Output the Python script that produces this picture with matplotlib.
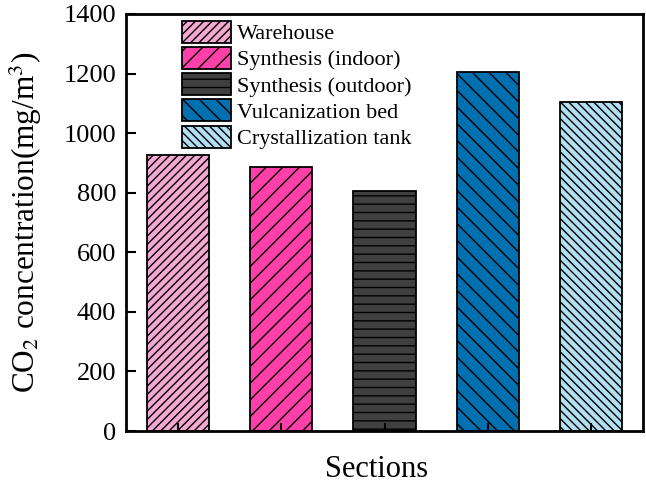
import matplotlib
matplotlib.use("Agg")
import matplotlib.pyplot as plt
import numpy as np

categories = ["Warehouse", "Synthesis (indoor)", "Synthesis (outdoor)",
              "Vulcanization bed", "Crystallization tank"]
values = [927, 886, 806, 1205, 1105]
colors = ["#F5A8D2", "#FF40A8", "#404040", "#0070B0", "#B4DEF2"]
hatches = ["////", "//", "--", "\\\\", "\\\\\\\\"]
yticks = [0, 200, 400, 600, 800, 1000, 1200, 1400]

plt.rcParams['font.family'] = ['Liberation Serif', 'DejaVu Serif']
plt.rcParams['hatch.linewidth'] = 1.0
plt.rcParams['mathtext.fontset'] = 'stix'

fig = plt.figure(figsize=(6.46, 4.88), dpi=100)
ax = fig.add_axes([126/646, 1 - 431/488, (643-126)/646, (431-14)/488])

x = np.arange(1, len(categories) + 1)
for xi, v, c, h, lab in zip(x, values, colors, hatches, categories):
    ax.bar(xi, v, width=0.6, color=c, edgecolor="black", hatch=h,
           linewidth=1.3, label=lab)

ax.set_xlim(0.5, 5.5)
ax.set_ylim(0, 1400)
ax.set_yticks(yticks)
ax.set_xticks(x)
ax.set_xticklabels([])
ax.tick_params(axis='y', direction='in', length=7, width=1.5, labelsize=19, pad=7)
ax.tick_params(axis='x', direction='in', length=6, width=1.5)
for s in ax.spines.values():
    s.set_linewidth(2)

ax.set_ylabel(r"CO$_2$ concentration(mg/m$^3$)", fontsize=22.5, labelpad=14)
ax.set_xlabel("Sections", fontsize=22, labelpad=14, x=0.485)

leg = ax.legend(loc="upper left", bbox_to_anchor=(0.108, 0.984), frameon=False,
                fontsize=16, handlelength=2.2, handleheight=1.15,
                handletextpad=0.27, labelspacing=0.12, borderaxespad=0,
                borderpad=0)

fig.savefig("out.png", dpi=100)
